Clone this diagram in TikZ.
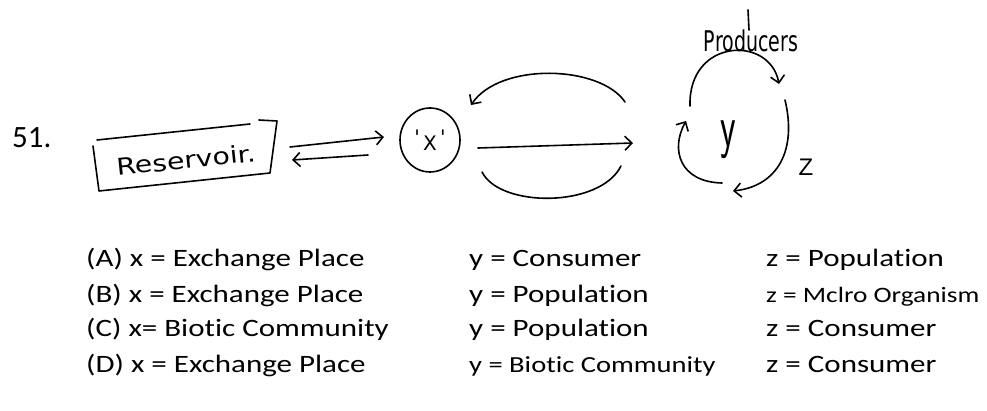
\documentclass[tikz,border=0pt]{standalone}
\usepackage{fontspec}
\setmainfont{Carlito}[Ligatures=NoCommon]
\newfontfamily\optfont{Carlito}[FakeStretch=1.24,Ligatures=NoCommon]
\newfontfamily\handfont{DejaVu Sans}
\newfontfamily\zfont{Liberation Sans}
\usetikzlibrary{arrows.meta,shapes.geometric}

\begin{document}
\begin{tikzpicture}[x=1pt,y=-1pt,
  ink/.style={line width=1.6pt, line cap=round, line join=round},
  barb/.style={-{Straight Barb[length=7pt,width=14pt,line width=1.6pt]}},
  opt/.style={anchor=base west, inner sep=0pt, font=\optfont\fontsize{25}{30}\selectfont},
  optsmall/.style={anchor=base west, inner sep=0pt, font=\optfont\fontsize{22}{26}\selectfont},
  optmid/.style={anchor=base west, inner sep=0pt, font=\optfont\fontsize{23}{27}\selectfont},
  hand/.style={inner sep=0pt, font=\handfont\fontsize{21}{24}\selectfont},
]
\useasboundingbox (0,0) rectangle (987,411);

% question number
\node[anchor=base west, inner sep=0pt, font=\fontsize{31}{36}\selectfont] (num) at (12,148) {51.};

% reservoir box, drawn as a slanted hand-made frame
\coordinate (bTL) at (97,140);
\coordinate (bTM) at (250,124);
\coordinate (bTR0) at (259,120);
\coordinate (bTR) at (277,121);
\coordinate (bBR) at (270,173);
\coordinate (bBL) at (99,191);
\coordinate (bLT) at (93,146);
\draw[ink] (bTL) -- (bTM);
\draw[ink] (bTR0) -- (bTR) -- (bBR) -- (bBL) -- (bLT);
\node[hand, rotate=6] (res) at (186,160) {\scalebox{1.35}[1.1]{Reservoir.}};

% exchange place circle
\node[draw, ink, ellipse, minimum width=60pt, minimum height=64pt, inner sep=0pt,
      font=\handfont\fontsize{20}{24}\selectfont] (xn) at (430,140)
  {\raisebox{6pt}{'}\,X\,\raisebox{6pt}{'}};

% two-way arrows between reservoir and circle
\coordinate (r1) at (290,147);
\coordinate (x1) at (384,137);
\coordinate (x2) at (368,155);
\coordinate (r2) at (292,160);
\draw[ink, barb] (r1) -- (x1);
\draw[ink, barb] (x2) -- (r2);

% arrows between circle and the y cycle
\coordinate (m1) at (478,148);
\coordinate (m2) at (633,143);
\draw[ink, barb] (m1) -- (m2);
\coordinate (u1) at (625,102);
\coordinate (u2) at (471,105);
\draw[ink, barb] (u1) .. controls (600,65) and (500,62) .. (u2);
\coordinate (l1) at (482,172);
\coordinate (l2) at (621,166);
\draw[ink] (l1) .. controls (500,208) and (600,208) .. (l2);

% y with its cycle
\node[inner sep=0pt, font=\sffamily\fontsize{40}{44}\selectfont] (yn) at (728,140) {\scalebox{0.9}[1.5]{y}};
\coordinate (c1) at (690,106);
\coordinate (c2) at (779,84);
\coordinate (c3) at (785,100);
\coordinate (c4) at (733,191);
\coordinate (c5) at (722,183);
\coordinate (c6) at (686,121);
\draw[ink, barb] (c1) .. controls (688,38) and (770,35) .. (c2);
\draw[ink, barb] (c3) .. controls (797,150) and (778,186) .. (c4);
\draw[ink, barb] (c5) .. controls (680,182) and (670,150) .. (c6);

% producers label with its stroke
\node[hand, font=\handfont\fontsize{19}{22}\selectfont] (prod) at (751,41) {\scalebox{1}[1.5]{Producers}};
\coordinate (t1) at (748,10);
\coordinate (t2) at (749,30);
\draw[ink] (t1) -- (t2);

% z label
\node[inner sep=0pt, font=\zfont\fontsize{24}{28}\selectfont] (zl) at (806,167) {Z};

% answer options
\node[opt] (a1) at (86,267) {(A) x = Exchange Place};
\node[opt] (a2) at (469,267) {y = Consumer};
\node[opt] (a3) at (766,267) {z = Population};
\node[opt] (b1) at (86,302) {(B) x = Exchange Place};
\node[opt] (b2) at (469,302) {y = Population};
\node[optsmall] (b3) at (766,302) {z = Mclro Organism};
\node[opt] (c1t) at (86,337) {(C) x= Biotic Community};
\node[opt] (c2t) at (469,337) {y = Population};
\node[opt] (c3t) at (766,337) {z = Consumer};
\node[opt] (d1) at (86,372) {(D) x = Exchange Place};
\node[optmid] (d2) at (469,372) {y = Biotic Community};
\node[opt] (d3) at (766,372) {z = Consumer};
\end{tikzpicture}
\end{document}
